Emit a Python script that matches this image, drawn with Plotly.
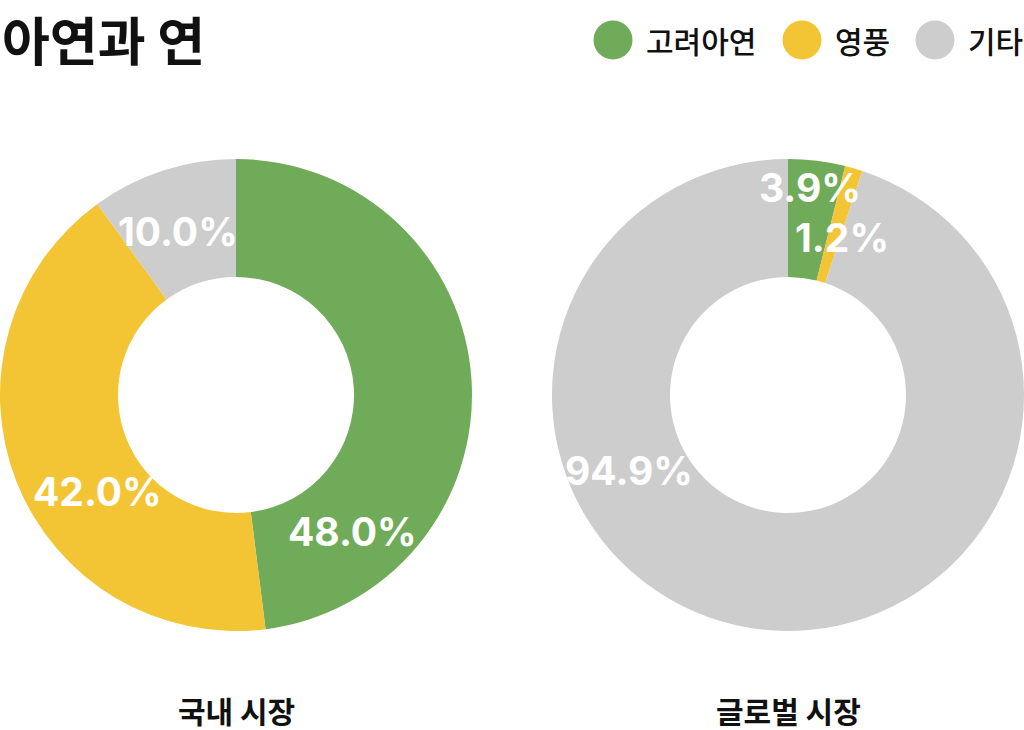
import plotly.graph_objects as go

# 데이터
회사 = ['고려아연', '영풍', '기타']
색상 = ['#6FAB58', '#F3C535', '#CDCDCD']
국내_점유율 = [48.0, 42.0, 10.0]
글로벌_점유율 = [3.9, 1.2, 94.9]
시장_이름 = ['국내 시장', '글로벌 시장']

W, H = 1024, 730
한글 = 'Noto Sans CJK KR'

# 라벨 위치 (도넛 중심에서 픽셀 오프셋, 오른쪽/아래가 +)
라벨_오프셋 = [
    [(116, 136), (-139, 97), (-58, -163)],
    [(22, -207), (54, -157), (-159, 76)],
]

fig = go.Figure()

도메인 = [[0, 472 / W], [552 / W, 1]]
도메인_y = [98 / H, 572 / H]
annotations = []

for 값, dom, 오프셋 in zip([국내_점유율, 글로벌_점유율], 도메인, 라벨_오프셋):
    fig.add_trace(go.Pie(
        labels=회사,
        values=값,
        hole=0.5,
        sort=False,
        direction='clockwise',
        rotation=0,
        marker=dict(colors=색상, line=dict(width=0)),
        textinfo='none',
        domain=dict(x=dom, y=도메인_y),
        showlegend=False,
        hoverinfo='label+percent',
    ))
    cx = (dom[0] + dom[1]) / 2
    cy = (도메인_y[0] + 도메인_y[1]) / 2
    # 퍼센트 라벨
    for v, (dx, dy) in zip(값, 오프셋):
        annotations.append(dict(
            text=f'<b>{v:.1f}%</b>', x=cx, y=cy, xref='paper', yref='paper',
            xshift=dx, yshift=-dy,
            xanchor='center', yanchor='middle', showarrow=False,
            font=dict(family='Inter', size=39, color='white'),
        ))

# 시장 이름 (아래)
for 이름, dom in zip(시장_이름, 도메인):
    annotations.append(dict(
        text='<b>' + 이름 + '</b>', x=(dom[0] + dom[1]) / 2, y=1 - 710 / H,
        xref='paper', yref='paper', xanchor='center', yanchor='middle',
        showarrow=False, font=dict(family=한글, size=30, color='#111111'),
    ))

# 제목
annotations.append(dict(
    text='<b>아연과 연</b>', x=0, y=1 - 39 / H, xref='paper', yref='paper',
    xanchor='left', yanchor='middle', showarrow=False,
    font=dict(family=한글, size=52, color='#111111'),
))

# 범례 (동그라미 + 글자)
shapes = []
원_중심 = [613, 802, 935]
for 이름, c, x in zip(회사, 색상, 원_중심):
    shapes.append(dict(
        type='circle', xref='paper', yref='paper',
        x0=(x - 19.5) / W, x1=(x + 19.5) / W,
        y0=1 - 59.5 / H, y1=1 - 20.5 / H,
        fillcolor=c, line=dict(width=0),
    ))
    annotations.append(dict(
        text=이름, x=(x + 31) / W, y=1 - 40 / H, xref='paper', yref='paper',
        xanchor='left', yanchor='middle', showarrow=False,
        font=dict(family=한글, size=30, color='#111111', weight=500),
    ))

fig.update_layout(
    width=W, height=H,
    margin=dict(l=0, r=0, t=0, b=0),
    paper_bgcolor='white', plot_bgcolor='white',
    annotations=annotations,
    shapes=shapes,
)

fig.write_html('out.html', config={'displayModeBar': False},
               post_script="document.body.style.margin='0';")
